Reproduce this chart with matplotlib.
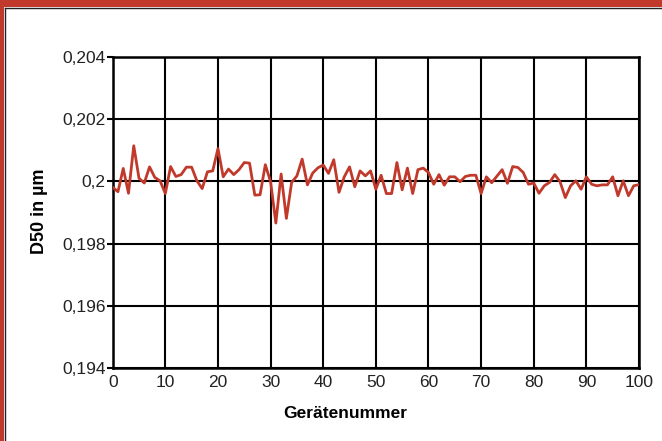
import matplotlib
matplotlib.use("Agg")
import matplotlib.pyplot as plt
from matplotlib.patches import Rectangle
from matplotlib.lines import Line2D
from matplotlib import font_manager

device_no = list(range(0, 101))
d50 = [0.19981, 0.19967, 0.20042, 0.19962, 0.20115, 0.20010, 0.19995, 0.20047, 0.20013, 0.20002,
       0.19961, 0.20048, 0.20016, 0.20022, 0.20046, 0.20046, 0.20002, 0.19977, 0.20031, 0.20034,
       0.20106, 0.20015, 0.20040, 0.20022, 0.20038, 0.20061, 0.20059, 0.19956, 0.19957, 0.20054,
       0.19999, 0.19866, 0.20024, 0.19881, 0.19997, 0.20018, 0.20072, 0.19989, 0.20027, 0.20044,
       0.20053, 0.20026, 0.20070, 0.19965, 0.20015, 0.20047, 0.19983, 0.20034, 0.20018, 0.20034,
       0.19975, 0.20020, 0.19961, 0.19961, 0.20061, 0.19973, 0.20043, 0.19961, 0.20038, 0.20043,
       0.20029, 0.19991, 0.20022, 0.19988, 0.20015, 0.20015, 0.19999, 0.20016, 0.20020, 0.20020,
       0.19961, 0.20015, 0.19996, 0.20017, 0.20038, 0.19994, 0.20048, 0.20045, 0.20029, 0.19991,
       0.19995, 0.19962, 0.19986, 0.19997, 0.20022, 0.19999, 0.19948, 0.19986, 0.20002, 0.19975,
       0.20015, 0.19991, 0.19986, 0.19989, 0.19989, 0.20015, 0.19954, 0.20002, 0.19954, 0.19986,
       0.19990]
x_ticks = [0, 10, 20, 30, 40, 50, 60, 70, 80, 90, 100]
y_ticks = [0.194, 0.196, 0.198, 0.200, 0.202, 0.204]
y_tick_labels = ["0,194", "0,196", "0,198", "0,2", "0,202", "0,204"]
x_label = "Gerätenummer"
y_label = "D50 in µm"

RED = "#c0392b"
W, H = 662, 441

available = {f.name for f in font_manager.fontManager.ttflist}
tick_font = "Liberation Sans" if "Liberation Sans" in available else "DejaVu Sans"
label_font = "Liberation Sans Narrow" if "Liberation Sans Narrow" in available else tick_font

fig = plt.figure(figsize=(W / 100, H / 100), dpi=100)
fig.patch.set_facecolor("white")

# Red frame (top and left) with thin dark inner line
fig.add_artist(Rectangle((0, 1 - 7 / H), 1, 7 / H, transform=fig.transFigure,
                         facecolor=RED, edgecolor="none", zorder=0))
fig.add_artist(Rectangle((0, 0), 4 / W, 1, transform=fig.transFigure,
                         facecolor=RED, edgecolor="none", zorder=0))
fig.add_artist(Line2D([4.5 / W, 1], [1 - 7.5 / H, 1 - 7.5 / H], transform=fig.transFigure,
                      color="#222222", lw=1.0))
fig.add_artist(Line2D([4.5 / W, 4.5 / W], [0, 1 - 7.5 / H], transform=fig.transFigure,
                      color="#222222", lw=1.0))

ax = fig.add_axes([112.7 / W, 1 - 367.7 / H, (639 - 112.7) / W, (367.7 - 57.3) / H])
ax.plot(device_no, d50, color=RED, lw=2.0, zorder=3)

ax.set_xlim(0, 100)
ax.set_ylim(0.194, 0.204)
ax.set_xticks(x_ticks)
ax.set_yticks(y_ticks)
ax.set_yticklabels(y_tick_labels)
ax.grid(True, color="black", lw=1.5, zorder=1)
ax.set_axisbelow(True)
for s in ax.spines.values():
    s.set_color("black")
    s.set_linewidth(1.8)
ax.tick_params(axis="x", length=0, pad=5, labelsize=12.5, labelcolor="#222222")
ax.tick_params(axis="y", length=4, width=1.5, pad=1, labelsize=12.5, labelcolor="#222222")
for lab in ax.get_xticklabels() + ax.get_yticklabels():
    lab.set_fontfamily(tick_font)

fig.text(345 / W, 1 - 414 / H, x_label, fontsize=12.5, fontweight="bold",
         family=label_font, ha="center", va="center")
fig.text(39 / W, 1 - 211 / H, y_label, fontsize=13, fontweight="bold",
         family=label_font, ha="center", va="center", rotation=90)

fig.savefig("out.png", dpi=100, facecolor="white")
